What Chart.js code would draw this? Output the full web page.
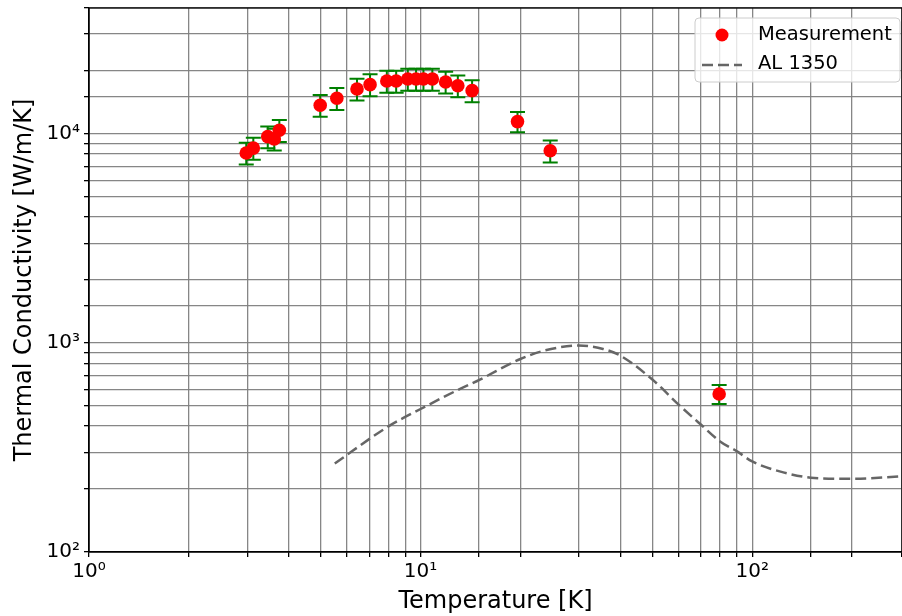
<!DOCTYPE html>
<html lang="en">
  <head>
    <meta charset="UTF-8" />
    <title>Thermal Conductivity</title>
    <style>
      html, body { margin: 0; padding: 0; background: #fff; }
      #wrap { width: 902px; height: 616px; }
    </style>
  </head>
  <body>
    <div id="wrap"><canvas id="myChart" width="902" height="616"></canvas></div>

    <script src="https://cdn.jsdelivr.net/npm/chart.js@4.4.1/dist/chart.umd.min.js"></script>
    <script>
      // measured points (K, W/m/K) and their error
      const temps = [2.98, 3.13, 3.46, 3.62, 3.75, 4.98, 5.59, 6.43, 7.04, 7.91, 8.44, 9.15, 9.69, 10.2, 10.85, 11.9, 12.95, 14.3, 19.6, 24.6, 79.5];
      const conductivity = [8100, 8550, 9700, 9450, 10400, 13700, 14800, 16400, 17200, 17900, 17900, 18300, 18300, 18300, 18300, 17700, 17000, 16100, 11450, 8300, 570];
      const condErr = [970, 1030, 1160, 1130, 1250, 1640, 1780, 1970, 2060, 2150, 2150, 2200, 2200, 2200, 2200, 2120, 2040, 1930, 1260, 1000, 60];

      // reference curve for AL 1350
      const alTemps = [5.51, 8, 10, 12.9, 15.1, 20, 23.8, 30, 35.5, 40, 50, 60, 70, 80, 90, 100, 121, 154, 200, 283];
      const alK = [265, 399, 483, 594, 668, 838, 922, 971, 936, 870, 668, 507, 407, 338, 303, 271, 243, 226, 224, 230];

      const xTickPowers = [1, 10, 100];
      const yTickPowers = [100, 1000, 10000];
      const sup = ["⁰", "¹", "²", "³", "⁴", "⁵"];

      const FONT = "'DejaVu Sans', sans-serif";
      const gridColor = "rgba(128,128,128,0.95)";

      function powLabel(list) {
        return function (value) {
          const hit = list.find(p => Math.abs(p - value) < 1e-6 * p);
          if (!hit) return "";
          return "10" + sup[Math.round(Math.log10(hit))];
        };
      }

      // no extra room for the edge tick labels
      function noEdgePadding(scale) {
        scale.paddingTop = 0;
        scale.paddingBottom = 0;
        scale.paddingLeft = 0;
        scale.paddingRight = 0;
      }

      const errorBars = {
        id: "errorBars",
        beforeDatasetsDraw(chart) {
          const ctx = chart.ctx;
          const xs = chart.scales.x, ys = chart.scales.y;
          ctx.save();
          ctx.strokeStyle = "#008000";
          ctx.lineWidth = 2;
          temps.forEach((t, i) => {
            const px = xs.getPixelForValue(t);
            const top = ys.getPixelForValue(conductivity[i] + condErr[i]);
            const bot = ys.getPixelForValue(conductivity[i] - condErr[i]);
            ctx.beginPath();
            ctx.moveTo(px, top); ctx.lineTo(px, bot);
            ctx.moveTo(px - 7.5, top); ctx.lineTo(px + 7.5, top);
            ctx.moveTo(px - 7.5, bot); ctx.lineTo(px + 7.5, bot);
            ctx.stroke();
          });
          ctx.restore();
        }
      };

      const frameAndLegend = {
        id: "frameAndLegend",
        afterDraw(chart) {
          const ctx = chart.ctx;
          const a = chart.chartArea;
          ctx.save();
          ctx.strokeStyle = "#000";
          ctx.lineWidth = 1.3;
          ctx.strokeRect(a.left, a.top, a.right - a.left, a.bottom - a.top);

          // legend box in the upper right corner
          const bx = a.right - 207, by = a.top + 10, bw = 205, bh = 64;
          ctx.beginPath();
          ctx.roundRect(bx, by, bw, bh, 4);
          ctx.fillStyle = "rgba(255,255,255,0.8)";
          ctx.fill();
          ctx.strokeStyle = "#cccccc";
          ctx.lineWidth = 1;
          ctx.stroke();

          ctx.fillStyle = "red";
          ctx.beginPath();
          ctx.arc(bx + 27, by + 17, 6.5, 0, Math.PI * 2);
          ctx.fill();

          ctx.strokeStyle = "#666666";
          ctx.lineWidth = 2.5;
          ctx.setLineDash([11, 5]);
          ctx.beginPath();
          ctx.moveTo(bx + 7, by + 47); ctx.lineTo(bx + 47, by + 47);
          ctx.stroke();
          ctx.setLineDash([]);

          ctx.fillStyle = "#000";
          ctx.font = "19.5px " + FONT;
          ctx.textBaseline = "middle";
          ctx.fillText(chart.data.datasets[0].label, bx + 63, by + 17);
          ctx.fillText(chart.data.datasets[1].label, bx + 63, by + 46);
          ctx.restore();
        }
      };

      const ctx = document.getElementById("myChart").getContext("2d");
      new Chart(ctx, {
        type: "scatter",
        data: {
          datasets: [
            {
              label: "Measurement",
              data: temps.map((t, i) => ({ x: t, y: conductivity[i] })),
              backgroundColor: "red",
              borderWidth: 0,
              pointRadius: 6.8,
              pointHoverRadius: 6.8,
              showLine: false
            },
            {
              label: "AL 1350",
              data: alTemps.map((t, i) => ({ x: t, y: alK[i] })),
              borderColor: "#666666",
              borderWidth: 2.5,
              borderDash: [11, 5],
              pointRadius: 0,
              showLine: true,
              cubicInterpolationMode: "monotone",
              fill: false
            }
          ]
        },
        options: {
          responsive: false,
          animation: false,
          layout: { autoPadding: false, padding: { top: 8, right: 0, left: 0, bottom: 0 } },
          plugins: { legend: { display: false }, tooltip: { enabled: false } },
          scales: {
            x: {
              type: "logarithmic",
              min: 1,
              max: 283,
              afterFit(scale) { scale.height = 64; noEdgePadding(scale); },
              grid: { color: gridColor, lineWidth: 1.3, tickLength: 5, tickColor: "#000" },
              border: { display: true, color: "#000", width: 1.3 },
              ticks: {
                autoSkip: false,
                maxRotation: 0,
                padding: 3,
                color: "#000",
                font: { family: FONT, size: 20 },
                callback: powLabel(xTickPowers)
              },
              title: {
                display: true,
                text: "Temperature [K]",
                color: "#000",
                font: { family: FONT, size: 24 },
                padding: { top: 0, bottom: 0 }
              }
            },
            y: {
              type: "logarithmic",
              min: 100,
              max: 40000,
              afterFit(scale) { scale.width = 89; noEdgePadding(scale); },
              grid: { color: gridColor, lineWidth: 1.3, tickLength: 5, tickColor: "#000" },
              border: { display: true, color: "#000", width: 1.3 },
              ticks: {
                autoSkip: false,
                padding: 4,
                color: "#000",
                font: { family: FONT, size: 20 },
                callback: powLabel(yTickPowers)
              },
              title: {
                display: true,
                text: "Thermal Conductivity [W/m/K]",
                color: "#000",
                font: { family: FONT, size: 24 },
                padding: { top: 10, bottom: 0 }
              }
            }
          }
        },
        plugins: [errorBars, frameAndLegend]
      });
    </script>
  </body>
</html>
